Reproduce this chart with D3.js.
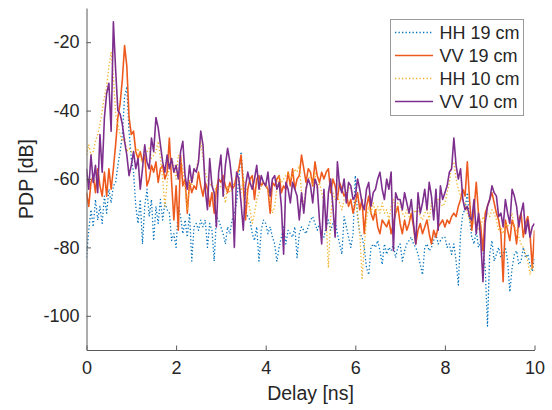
<!DOCTYPE html>
<html>
<head>
<meta charset="utf-8">
<script src="https://cdn.jsdelivr.net/npm/d3@7"></script>
<style>
  html, body { margin: 0; padding: 0; background: #fff; }
  svg { display: block; }
  text { font-family: "Liberation Sans", Arial, Helvetica, sans-serif; fill: #262626; }
</style>
</head>
<body>
<svg id="chart" width="552" height="410"></svg>
<script>
// Power delay profiles, sampled every 0.05 ns from 0 to 10 ns
const delayStep = 0.05;

const seriesNames = ["HH 19 cm", "VV 19 cm", "HH 10 cm", "VV 10 cm"];

const hh19 = [
  -83,-75,-69,-74,-66,-72,-68,-73,-65,-70,
  -63,-67,-62,-61,-56,-52,-47,-36,-33,-46,
  -54,-58,-68,-73,-66,-79,-68,-63,-71,-66,
  -78,-68,-73,-66,-72,-67,-69,-70,-78,-76,
  -80,-68,-71,-76,-72,-77,-70,-84,-74,-73,
  -75,-72,-74,-72,-80,-73,-75,-84,-71,-72,
  -74,-76,-79,-74,-76,-72,-70,-67,-60,-52,
  -60,-69,-71,-72,-76,-78,-74,-84,-75,-72,
  -73,-76,-74,-77,-79,-84,-80,-77,-74,-79,
  -75,-76,-77,-74,-83,-76,-74,-75,-76,-74,
  -72,-71,-73,-75,-73,-76,-77,-74,-72,-75,
  -73,-72,-76,-79,-82,-71,-74,-77,-80,-76,
  -59,-71,-76,-77,-80,-86,-88,-80,-79,-80,
  -78,-81,-85,-79,-82,-80,-81,-79,-83,-80,
  -79,-84,-81,-79,-78,-77,-79,-80,-82,-85,
  -88,-80,-79,-81,-80,-78,-76,-79,-78,-77,
  -77,-80,-79,-82,-79,-84,-91,-76,-70,-69,
  -64,-72,-77,-79,-75,-80,-78,-81,-86,-103,
  -82,-78,-84,-82,-80,-83,-82,-80,-84,-93,
  -86,-82,-81,-85,-84,-80,-83,-82,-85,-87,
  -83
];

const vv19 = [
  -64,-68,-61,-59,-64,-57,-62,-65,-58,-65,
  -57,-63,-57,-50,-42,-38,-31,-21,-27,-42,
  -47,-46,-52,-54,-52,-55,-53,-62,-60,-56,
  -58,-55,-61,-57,-56,-60,-58,-48,-61,-72,
  -62,-75,-53,-62,-60,-70,-61,-64,-62,-63,
  -58,-62,-65,-61,-63,-68,-64,-70,-63,-60,
  -61,-59,-62,-64,-61,-63,-62,-59,-57,-53,
  -62,-72,-63,-60,-59,-66,-60,-59,-62,-61,
  -62,-63,-70,-61,-62,-60,-59,-64,-62,-63,
  -58,-62,-57,-63,-60,-59,-53,-57,-61,-57,
  -58,-62,-55,-59,-61,-58,-60,-58,-57,-64,
  -60,-62,-66,-61,-63,-65,-64,-68,-66,-70,
  -67,-64,-69,-66,-76,-68,-65,-70,-72,-69,
  -74,-76,-72,-73,-74,-72,-76,-73,-70,-68,
  -73,-76,-72,-75,-73,-70,-74,-79,-75,-73,
  -76,-74,-72,-76,-79,-75,-77,-74,-73,-72,
  -74,-72,-73,-71,-70,-71,-68,-66,-63,-65,
  -55,-66,-75,-69,-61,-70,-74,-81,-70,-68,
  -66,-64,-67,-70,-72,-76,-90,-72,-75,-78,
  -72,-74,-79,-72,-70,-77,-73,-71,-76,-86,
  -75
];

const hh10 = [
  -53,-50,-53,-52,-49,-47,-44,-40,-36,-33,
  -27,-23,-30,-41,-44,-47,-49,-48,-52,-51,
  -52,-53,-52,-51,-54,-55,-53,-52,-51,-54,
  -53,-52,-49,-54,-60,-68,-61,-56,-54,-56,
  -60,-53,-54,-57,-62,-69,-60,-62,-58,-57,
  -54,-49,-54,-58,-60,-62,-61,-64,-62,-63,
  -62,-63,-67,-62,-64,-63,-61,-60,-61,-64,
  -60,-62,-66,-69,-73,-70,-66,-64,-62,-61,
  -61,-63,-67,-70,-68,-63,-59,-61,-60,-59,
  -58,-60,-59,-57,-58,-56,-64,-68,-62,-60,
  -59,-62,-58,-63,-61,-64,-67,-72,-86,-71,
  -64,-66,-65,-67,-69,-66,-64,-62,-63,-65,
  -67,-70,-76,-89,-80,-72,-68,-70,-67,-70,
  -68,-70,-67,-70,-69,-72,-68,-66,-70,-67,
  -67,-70,-71,-69,-71,-70,-69,-70,-68,-71,
  -72,-70,-69,-72,-67,-70,-68,-66,-67,-68,
  -67,-64,-61,-56,-55,-60,-63,-65,-66,-67,
  -70,-72,-71,-73,-72,-75,-74,-71,-72,-70,
  -71,-69,-70,-72,-75,-74,-76,-73,-74,-72,
  -70,-74,-75,-77,-79,-80,-82,-84,-88,-85,
  -87
];

const vv10 = [
  -57,-63,-53,-61,-56,-64,-47,-58,-42,-35,
  -32,-46,-14,-28,-40,-41,-44,-49,-53,-59,
  -56,-52,-57,-54,-63,-57,-50,-55,-57,-48,
  -52,-42,-45,-50,-55,-58,-53,-57,-54,-58,
  -56,-60,-52,-49,-59,-63,-56,-61,-57,-58,
  -55,-46,-50,-63,-69,-54,-62,-64,-74,-58,
  -53,-65,-56,-51,-55,-61,-80,-58,-60,-67,
  -75,-62,-58,-61,-63,-60,-56,-63,-59,-61,
  -62,-58,-65,-60,-59,-63,-61,-68,-82,-61,
  -63,-67,-61,-63,-65,-72,-64,-70,-63,-60,
  -62,-67,-60,-62,-72,-79,-63,-75,-64,-60,
  -68,-77,-55,-62,-64,-60,-67,-61,-62,-66,
  -65,-60,-63,-67,-69,-63,-61,-68,-64,-63,
  -60,-58,-63,-66,-60,-63,-58,-81,-64,-66,
  -66,-69,-64,-67,-70,-66,-73,-79,-64,-70,
  -67,-63,-69,-61,-65,-72,-63,-75,-62,-66,
  -64,-62,-58,-57,-48,-56,-60,-57,-66,-69,
  -68,-71,-72,-66,-76,-70,-78,-90,-73,-68,
  -66,-62,-64,-65,-71,-70,-74,-66,-70,-73,
  -63,-65,-68,-74,-70,-67,-76,-72,-77,-74,
  -73
];

const xTicks = [0, 2, 4, 6, 8, 10];
const yTicks = [-100, -80, -60, -40, -20];
const xDomain = [0, 10];
const yDomain = [-110, -10];

// Line styles, in plotting order (last is drawn on top)
const styles = [
  { color: "#0072BD", width: 1.3, dash: "1.3,2.2" },
  { color: "#EE5A1E", width: 1.6, dash: null },
  { color: "#F2B028", width: 1.3, dash: "1.3,2.2" },
  { color: "#7E2F8E", width: 1.6, dash: null }
];
const seriesValues = [hh19, vv19, hh10, vv10];

const svg = d3.select("#chart");
const plotLeft = 86.5, plotRight = 534.5, plotTop = 8, plotBottom = 350;

const x = d3.scaleLinear().domain(xDomain).range([plotLeft, plotRight]);
const y = d3.scaleLinear().domain(yDomain).range([plotBottom, plotTop]);

svg.append("defs").append("clipPath").attr("id", "plotClip")
  .append("rect").attr("x", plotLeft).attr("y", plotTop)
  .attr("width", plotRight - plotLeft).attr("height", plotBottom - plotTop);

const line = d3.line()
  .x((d, i) => x(i * delayStep))
  .y(d => y(d));

const plot = svg.append("g").attr("clip-path", "url(#plotClip)");
seriesValues.forEach((vals, k) => {
  const s = styles[k];
  const p = plot.append("path")
    .datum(vals)
    .attr("d", line)
    .attr("fill", "none")
    .attr("stroke", s.color)
    .attr("stroke-width", s.width)
    .attr("stroke-linejoin", "round");
  if (s.dash) p.attr("stroke-dasharray", s.dash);
});

// Axes: ticks point inward, no box
const fmt = d => String(d).replace("\u2212", "-");
const axisColor = "#5a5a5a";

const xAxis = svg.append("g")
  .attr("transform", `translate(0,${plotBottom})`)
  .call(d3.axisBottom(x).tickValues(xTicks).tickFormat(fmt).tickSizeInner(-4.5).tickSizeOuter(0).tickPadding(11));
const yAxis = svg.append("g")
  .attr("transform", `translate(${plotLeft},0)`)
  .call(d3.axisLeft(y).tickValues(yTicks).tickFormat(fmt).tickSizeInner(-4.5).tickSizeOuter(0).tickPadding(7));

[xAxis, yAxis].forEach(a => {
  a.select(".domain").attr("stroke", axisColor).attr("stroke-width", 1);
  a.selectAll(".tick line").attr("stroke", axisColor).attr("stroke-width", 1);
  a.selectAll(".tick text")
    .attr("font-family", "Liberation Sans, Arial, sans-serif")
    .attr("font-size", 18)
    .attr("fill", "#262626");
});
xAxis.selectAll(".tick text").attr("dy", "0.71em");

svg.append("text")
  .attr("x", (plotLeft + plotRight) / 2)
  .attr("y", 400)
  .attr("text-anchor", "middle")
  .attr("font-size", 19.5)
  .text("Delay [ns]");

svg.append("text")
  .attr("transform", `translate(33,${(plotTop + plotBottom) / 2}) rotate(-90)`)
  .attr("text-anchor", "middle")
  .attr("font-size", 19.5)
  .text("PDP [dB]");

// Legend
const lg = svg.append("g");
lg.append("rect")
  .attr("x", 390.5).attr("y", 19.5)
  .attr("width", 133).attr("height", 96)
  .attr("fill", "#fff").attr("stroke", "#9a9a9a").attr("stroke-width", 1);

seriesNames.forEach((name, k) => {
  const cy = 32.5 + k * 23;
  const s = styles[k];
  const ln = lg.append("line")
    .attr("x1", 395).attr("x2", 433)
    .attr("y1", cy).attr("y2", cy)
    .attr("stroke", s.color).attr("stroke-width", s.width);
  if (s.dash) ln.attr("stroke-dasharray", s.dash);
  lg.append("text")
    .attr("x", 439.5).attr("y", cy)
    .attr("dy", "0.35em")
    .attr("font-size", 18)
    .text(name);
});
</script>
</body>
</html>
